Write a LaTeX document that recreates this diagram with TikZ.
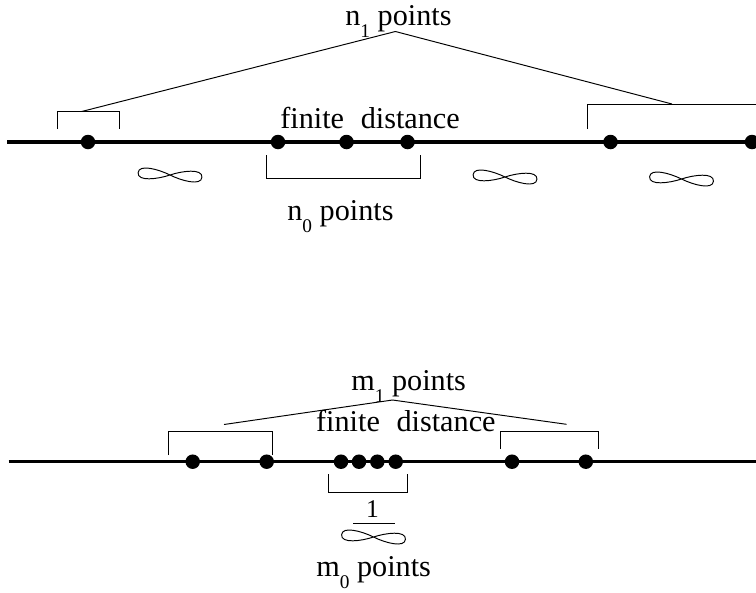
\documentclass[tikz,border=0pt]{standalone}
\usepackage{fontspec}
\setmainfont{Liberation Serif}
\newcommand\lowidx[1]{\raisebox{-0.4em}{\fontsize{11}{11}\selectfont #1}}
\tikzset{
  dot/.style={circle,fill,inner sep=0pt,minimum size=0.29cm},
  axis/.style={line width=1.9pt},
  brace/.style={line width=0.55pt},
  lbl/.style={inner sep=0pt,anchor=base west,font=\fontsize{17.2}{20}\selectfont},
  lemni/.pic={\draw[line width=0.55pt,rotate=-4] (0,0) .. controls (12,-5) and (32,-9) .. (32,0)
     .. controls (32,9) and (12,5) .. (0,0) .. controls (-12,-5) and (-32,-9) .. (-32,0)
     .. controls (-32,9) and (-12,5) .. (0,0);}
}
\begin{document}
\begin{tikzpicture}[x=0.02cm,y=-0.02cm]
\useasboundingbox (0,0) rectangle (756,592);

% upper line
\draw[axis] (7,142)--(762,142);
\foreach \x [count=\i] in {88,278,346.5,407.5,610.5,752}
{
    \node[dot] (u\i) at (\x,142) {};
}
\draw[brace] (57,129) |- (119,111.5) -- (119,129);
\draw[brace] (587,129) |- (762,104);
\draw[brace] (266.7,155) |- (420,178.3) -- (420,155);

\node[lbl] (nonepts) at (345,25) {n\lowidx{1} points};
\node[lbl] (ufinite) at (280,128) {finite\hspace{0.55em}distance};
\node[lbl] (nzeropts) at (287,220) {n\lowidx{0} points};

\coordinate (uapex) at (395.4,31.5);
\coordinate (uleft) at (81.7,111.5);
\coordinate (uright) at (672,104);
\draw[brace] (uleft)--(uapex)--(uright);

\pic at (170,175) {lemni};
\pic at (505,177) {lemni};
\pic at (681.5,179) {lemni};

% lower line
\draw[axis] (8.7,461.7)--(762,461.7);
\foreach \x [count=\i] in {192.7,266.7,341,359,377.3,395.7,512,585.8}
{
    \node[dot] (l\i) at (\x,461.7) {};
}
\draw[brace] (168.3,455) |- (272.7,431) -- (272.7,455);
\draw[brace] (500,449) |- (598.8,431) -- (598.8,449);
\draw[brace] (328.3,474.3) |- (407.7,492.3) -- (407.7,474.3);

\node[lbl] (monepts) at (351,390) {m\lowidx{1} points};
\node[lbl] (lfinite) at (315.8,431) {finite\hspace{0.55em}distance};
\node[lbl] (mzeropts) at (316,576.5) {m\lowidx{0} points};

\coordinate (lapex) at (392.5,400);
\coordinate (lleft) at (224,424.5);
\coordinate (lright) at (566.5,424.3);
\draw[brace] (lleft)--(lapex)--(lright);

\node[inner sep=0pt,anchor=base,font=\fontsize{14.5}{15}\selectfont] (one) at (372.5,517) {1};
\coordinate (barl) at (353,523.3);
\coordinate (barr) at (395,523.3);
\draw[brace] (barl)--(barr);
\pic at (373.5,537) {lemni};
\end{tikzpicture}
\end{document}
